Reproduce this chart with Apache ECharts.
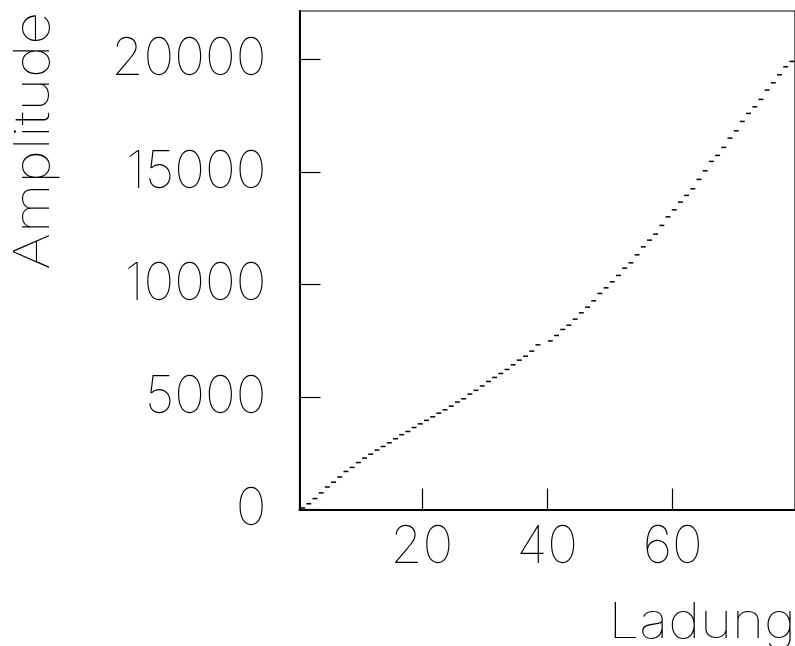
<!DOCTYPE html>
<html>
<head>
<meta charset="utf-8">
<script src="https://cdn.jsdelivr.net/npm/echarts@6/dist/echarts.min.js"></script>
<style>
  html, body { margin: 0; padding: 0; background: #fff; }
  #chart { width: 795px; height: 646px; }
</style>
</head>
<body>
<div id="chart"></div>
<script>
// Histogram: 80 bins between 0.5 and 79.5 (bin 40 is empty)
const histLow = 0.5;
const histHigh = 79.5;
const amplitude = [
  70, 255, 485, 738, 1000, 1213, 1445, 1689, 1870, 2085,
  2285, 2458, 2640, 2800, 2962, 3145, 3325, 3467, 3644, 3805,
  3960, 4120, 4280, 4430, 4595, 4775, 4920, 5128, 5295, 5490,
  5689, 5867, 6044, 6222, 6427, 6636, 6813, 7036, 7316, null,
  7490, 7733, 8000, 8191, 8458, 8738, 8991, 9271, 9600, 9849,
  10116, 10400, 10724, 10960, 11316, 11671, 11969, 12236, 12622, 13004,
  13316, 13658, 13956, 14249, 14667, 15049, 15467, 15733, 16089, 16502,
  16827, 17244, 17600, 17893, 18222, 18636, 18960, 19316, 19671, 19911
];
const xTicks = [20, 40, 60];
const yTicks = [0, 5000, 10000, 15000, 20000];
const yMax = 22150;
const xTitle = 'Ladung';
const yTitle = 'Amplitude';

const binWidth = (histHigh - histLow) / amplitude.length;
const points = [];
amplitude.forEach(function (v, i) {
  if (v !== null) points.push([histLow + (i + 0.5) * binWidth, v]);
});

const font = 'Inter, "DejaVu Sans", sans-serif';
const chart = echarts.init(document.getElementById('chart'), null, { renderer: 'canvas' });

chart.setOption({
  animation: false,
  backgroundColor: '#fff',
  grid: {
    left: 299.5, top: 11, width: 498.5, height: 498.5,
    show: true, borderColor: '#000', borderWidth: 1.2, backgroundColor: 'transparent'
  },
  xAxis: {
    type: 'value', min: histLow, max: histHigh,
    axisLine: { show: true, onZero: false, lineStyle: { color: '#000', width: 2 } },
    axisTick: { show: true, inside: true, length: 21, customValues: xTicks, lineStyle: { color: '#000', width: 1.2 } },
    axisLabel: {
      show: true, customValues: xTicks, margin: 12, color: '#000',
      fontFamily: font, fontWeight: 100, fontSize: 52,
      formatter: function (v) { return String(v); }
    },
    splitLine: { show: false }
  },
  yAxis: {
    type: 'value', min: 0, max: yMax,
    axisLine: { show: true, lineStyle: { color: '#000', width: 2 } },
    axisTick: { show: true, inside: true, length: 21, customValues: yTicks, lineStyle: { color: '#000', width: 1.2 } },
    axisLabel: {
      show: true, customValues: yTicks, margin: 33, color: '#000',
      fontFamily: font, fontWeight: 100, fontSize: 52,
      formatter: function (v) { return String(v); }
    },
    splitLine: { show: false }
  },
  graphic: [
    {
      type: 'text', x: 796, y: 648, scaleX: 1.12,
      style: { text: xTitle, font: '100 49px ' + font, fill: '#000', textAlign: 'right', textVerticalAlign: 'bottom' }
    },
    {
      type: 'text', x: 59, y: 12, rotation: Math.PI / 2, scaleX: 1.17,
      style: { text: yTitle, font: '100 49px ' + font, fill: '#000', textAlign: 'right', textVerticalAlign: 'bottom' }
    }
  ],
  series: [{
    type: 'custom',
    data: points,
    renderItem: function (params, api) {
      const p = api.coord([api.value(0), api.value(1)]);
      const half = api.size([binWidth, 0])[0] * 0.4;
      return {
        type: 'line',
        shape: { x1: p[0] - half, y1: p[1], x2: p[0] + half, y2: p[1] },
        style: { stroke: '#000', lineWidth: 1.5 }
      };
    }
  }]
});
</script>
</body>
</html>
